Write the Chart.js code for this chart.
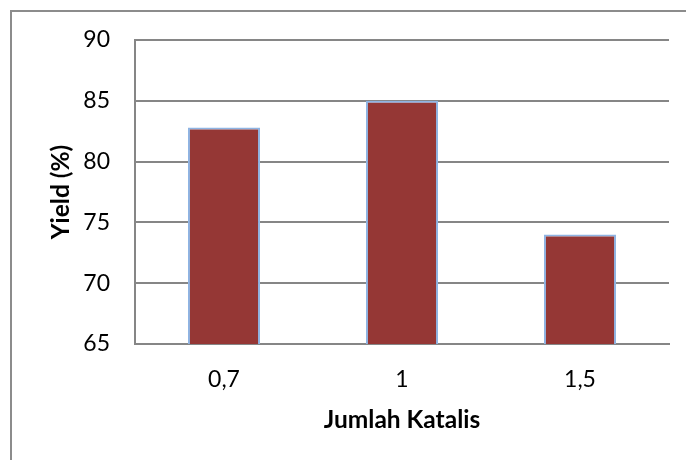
<!DOCTYPE html>
<html>
<head>
<meta charset="utf-8">
<script src="https://cdn.jsdelivr.net/npm/chart.js@4/dist/chart.umd.min.js"></script>
<style>
  html, body { margin: 0; padding: 0; background: #ffffff; }
  #wrap { position: relative; width: 686px; height: 460px; overflow: hidden; }
  #frame { position: absolute; left: 10px; top: 10px; width: 800px; height: 600px;
           border: 2px solid #8c8c8c; box-sizing: border-box; }
  canvas { position: absolute; left: 0; top: 0; }
</style>
</head>
<body>
<div id="wrap">
  <div id="frame"></div>
  <canvas id="c" width="686" height="460"></canvas>
</div>
<script>
// Catalyst amount (category) vs. yield
const categories = ['0,7', '1', '1,5'];
const yieldValues = [82.8, 85, 74];
const yTicks = [65, 70, 75, 80, 85, 90];

const axisFont = { family: 'Lato, "Open Sans", sans-serif', size: 23 };
const titleFont = { family: 'Lato, "Open Sans", sans-serif', size: 24.5, weight: 'bold' };

new Chart(document.getElementById('c'), {
  type: 'bar',
  data: {
    labels: categories,
    datasets: [{
      data: yieldValues,
      backgroundColor: '#953735',
      borderColor: '#8eb4e3',
      borderWidth: 2,
      categoryPercentage: 1,
      barPercentage: 0.405
    }]
  },
  options: {
    responsive: false,
    devicePixelRatio: 1,
    animation: false,
    layout: { padding: { top: 40, right: 17, left: 0, bottom: 0 } },
    plugins: { legend: { display: false }, tooltip: { enabled: false } },
    scales: {
      x: {
        grid: { display: false, drawTicks: false },
        border: { display: true, color: '#868686', width: 2 },
        ticks: { color: '#000', font: axisFont, padding: 22, maxRotation: 0 },
        title: { display: true, text: 'Jumlah Katalis', color: '#000', font: titleFont,
                 padding: { top: 0, bottom: 25 } },
        afterFit: s => { s.height = 116; }
      },
      y: {
        min: yTicks[0],
        max: yTicks[yTicks.length - 1],
        afterBuildTicks: s => { s.ticks = yTicks.map(v => ({ value: v })); },
        grid: { color: '#868686', lineWidth: 2, drawTicks: false },
        border: { display: true, color: '#868686', width: 2 },
        ticks: { color: '#000', font: axisFont, padding: 25 },
        title: { display: true, text: 'Yield (%)', color: '#000', font: titleFont,
                 padding: { top: 46, bottom: 0 } },
        afterFit: s => { s.width = 135; }
      }
    }
  }
});
</script>
</body>
</html>
